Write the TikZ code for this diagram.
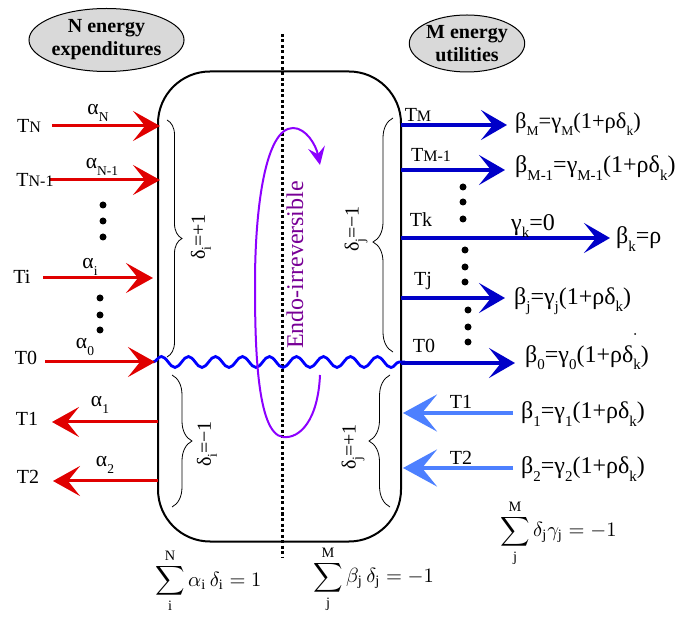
\documentclass[tikz,border=0pt]{standalone}
\usepackage{fontspec}
\setmainfont{Liberation Serif}
\usetikzlibrary{arrows.meta,decorations.pathmorphing,decorations.pathreplacing,shapes.geometric}
\definecolor{arrred}{RGB}{224,0,0}
\definecolor{arrblue}{RGB}{0,0,200}
\definecolor{ltblue}{RGB}{77,128,255}
\definecolor{wavecol}{RGB}{0,0,255}
\definecolor{loopcol}{RGB}{140,0,255}
\definecolor{endocol}{RGB}{120,0,150}
\definecolor{ellfill}{RGB}{217,217,217}
\newcommand\sbs[1]{\raisebox{-0.3em}{\fontsize{13.5}{14}\selectfont #1}}
\newcommand\sbsB[1]{\raisebox{-0.3em}{\fontsize{15}{15}\selectfont #1}}
\newcommand\tsm[1]{{\fontsize{16}{16}\selectfont #1}}
\tikzset{
  lbl/.style={inner sep=0pt, font=\fontsize{20}{22}\selectfont},
  alphalbl/.style={inner sep=0pt, font=\fontsize{21.5}{24}\selectfont},
  betalbl/.style={inner sep=0pt, anchor=west, font=\fontsize{24}{26}\selectfont},
  sumlbl/.style={inner sep=0pt, anchor=west},
  redarr/.style={draw=arrred, line width=3pt, -{Stealth[length=27pt,width=30pt,inset=12pt]}},
  bluearr/.style={draw=arrblue, line width=3.2pt, -{Stealth[length=26pt,width=30pt,inset=12pt]}},
  ltarr/.style={draw=ltblue, line width=4pt, -{Stealth[length=34pt,width=37pt,inset=15pt]}},
  bracestyle/.style={draw, line width=0.8pt, decorate},
  ell/.style={ellipse, draw, line width=1pt, fill=ellfill, inner sep=0pt, align=center, font=\bfseries\fontsize{20}{23}\selectfont},
  dotnode/.style={circle, fill=black, inner sep=0pt, minimum size=7pt},
  speck/.style={circle, fill=black, inner sep=0pt, minimum size=2pt},
  rotlbl/.style={inner sep=0pt, rotate=90, font=\fontsize{20}{22}\selectfont},
}
\newcommand\gap{\rule[-0.6pt]{0pt}{0pt}}
\begin{document}
\begin{tikzpicture}[x=1pt,y=-1pt]
\useasboundingbox (0,0) rectangle (675,617);
% ellipses
\node[ell, minimum width=153pt, minimum height=63pt] (ellN) at (106.5,40) {N energy\\expenditures};
\node[ell, minimum width=112pt, minimum height=57pt] (ellM) at (467,43.5) {M energy\\utilities};
% dotted line
\coordinate (dtop) at (282,34);
\coordinate (dbot) at (282,557);
\draw[line width=3pt, dash pattern=on 3pt off 2.5pt] (dtop) -- (dbot);
% box
\node[draw, line width=2pt, rounded corners=52pt, minimum width=243pt, minimum height=470pt, inner sep=0pt] (box) at (279.5,306.5) {};
% wave
\coordinate (wl) at (153,362);
\coordinate (wr) at (405,362);
\draw[wavecol, line width=2.8pt, decorate, decoration={snake, segment length=27pt, amplitude=5.5pt}] (wl) -- (wr);
% purple loop
\coordinate (ls) at (320,375);
\coordinate (lb) at (283,437);
\coordinate (ll) at (255,283);
\coordinate (lt) at (293,128);
\coordinate (le) at (320,165);
\draw[loopcol, line width=2pt, -{Stealth[length=18pt,width=17pt,inset=7pt]}]
  (ls) .. controls (318,420) and (300,439) .. (lb)
  .. controls (256,434) and (255,340) .. (ll)
  .. controls (255,210) and (265,128) .. (lt)
  .. controls (306,128) and (316,145) .. (le);
\node[rotlbl, text=endocol, font=\fontsize{24}{26}\selectfont] (endo) at (295,265) {Endo-irreversible};
% braces
\coordinate (b1t) at (167,120); \coordinate (b1b) at (167,357);
\draw[bracestyle, decoration={brace, amplitude=15pt}] (b1t) -- (b1b);
\coordinate (b2t) at (172,375); \coordinate (b2b) at (172,507);
\draw[bracestyle, decoration={brace, amplitude=20pt}] (b2t) -- (b2b);
\coordinate (b3t) at (393,118); \coordinate (b3b) at (393,352);
\draw[bracestyle, decoration={brace, amplitude=20pt, aspect=0.47}] (b3b) -- (b3t);
\coordinate (b4t) at (390,375); \coordinate (b4b) at (390,507);
\draw[bracestyle, decoration={brace, amplitude=21pt}] (b4b) -- (b4t);
\node[rotlbl] (d1) at (201,237) {δ\sbs{i}=+1};
\node[rotlbl] (d2) at (207,444) {δ\sbs{i}=−1};
\node[rotlbl] (d3) at (356,229) {δ\sbs{j}=−1};
\node[rotlbl] (d4) at (353,447) {δ\sbs{j}=+1};
% left red arrows
\coordinate (aNs) at (52,126);  \coordinate (aNe) at (160,126);
\coordinate (aN1s) at (50,180); \coordinate (aN1e) at (160,180);
\coordinate (ais) at (43,278);  \coordinate (aie) at (153,278);
\coordinate (a0s) at (45,362);  \coordinate (a0e) at (155,362);
\coordinate (a1s) at (158,422); \coordinate (a1e) at (52,422);
\coordinate (a2s) at (158,481); \coordinate (a2e) at (53,481);
\draw[redarr] (aNs) -- (aNe);
\draw[redarr] (aN1s) -- (aN1e);
\draw[redarr] (ais) -- (aie);
\draw[redarr] (a0s) -- (a0e);
\draw[redarr] (a1s) -- (a1e);
\draw[redarr] (a2s) -- (a2e);
\node[lbl] (TN) at (29,126) {T\tsm{N}};
\node[lbl] (TN1) at (35,180) {T\tsm{N-1}};
\node[lbl] (Ti) at (22,277) {Ti};
\node[lbl] (T0l) at (26,358) {T0};
\node[lbl] (T1l) at (27,419) {T1};
\node[lbl] (T2l) at (28,477) {T2};
\node[alphalbl] (alN) at (98,113) {α\sbs{N}};
\node[alphalbl] (alN1) at (102,167) {α\sbs{N-1}};
\node[alphalbl] (ali) at (90,267) {α\sbs{i}};
\node[alphalbl] (al0) at (85,347) {α\sbs{0}};
\node[alphalbl] (al1) at (100,405) {α\sbs{1}};
\node[alphalbl] (al2) at (105,465) {α\sbs{2}};
% left dots
\node[dotnode] (ld1) at (103,205) {};
\node[dotnode] (ld2) at (103,221) {};
\node[dotnode] (ld3) at (103,237) {};
\node[dotnode] (ld4) at (100,298) {};
\node[dotnode] (ld5) at (100,315) {};
\node[dotnode] (ld6) at (100,330) {};
% right blue arrows
\coordinate (bMs) at (401,125);  \coordinate (bMe) at (507,125);
\coordinate (bM1s) at (401,170); \coordinate (bM1e) at (505,170);
\coordinate (bks) at (401,238);  \coordinate (bke) at (610,238);
\coordinate (bjs) at (401,298);  \coordinate (bje) at (505,298);
\coordinate (b0s) at (401,363);  \coordinate (b0e) at (515,363);
\coordinate (c1s) at (513,413);  \coordinate (c1e) at (403,413);
\coordinate (c2s) at (513,468);  \coordinate (c2e) at (403,468);
\draw[bluearr] (bMs) -- (bMe);
\draw[bluearr] (bM1s) -- (bM1e);
\draw[bluearr] (bks) -- (bke);
\draw[bluearr] (bjs) -- (bje);
\draw[bluearr] (b0s) -- (b0e);
\draw[ltarr] (c1s) -- (c1e);
\draw[ltarr] (c2s) -- (c2e);
\node[lbl] (TM) at (418,115) {T\tsm{M}};
\node[lbl] (TM1) at (431,155) {T\tsm{M-1}};
\node[lbl] (Tk) at (421,220) {Tk};
\node[lbl] (Tj) at (423,281) {Tj};
\node[lbl] (T0r) at (424,346) {T0};
\node[lbl] (T1r) at (461,402) {T1};
\node[lbl] (T2r) at (461,458) {T2};
\node[betalbl, font=\fontsize{22.5}{24}\selectfont] (beM) at (515,124) {β\sbs{M}=γ\sbs{M}(1+ρδ\sbs{k})};
\node[betalbl] (beM1) at (515,168) {β\sbsB{M-1}=γ\sbsB{M-1}(1+ρδ\sbsB{k})};
\node[lbl, font=\fontsize{24}{26}\selectfont] (gak) at (533,226) {γ\sbsB{k}=0};
\node[betalbl] (bek) at (616,239) {β\sbsB{k}=ρ};
\node[betalbl] (bej) at (514,301) {β\sbsB{j}=γ\sbsB{j}(1+ρδ\sbsB{k})};
\node[betalbl] (be0) at (525,358) {β\sbsB{0}=γ\sbsB{0}(1+ρδ\sbsB{k})};
\node[speck] (spk) at (635,334) {};
\node[betalbl] (be1) at (521,414) {β\sbsB{1}=γ\sbsB{1}(1+ρδ\sbsB{k})};
\node[betalbl] (be2) at (521,469) {β\sbsB{2}=γ\sbsB{2}(1+ρδ\sbsB{k})};
% right dots
\node[dotnode] (rd1) at (463,187) {};
\node[dotnode] (rd2) at (463,202) {};
\node[dotnode] (rd3) at (463,219) {};
\node[dotnode] (rd4) at (465,250) {};
\node[dotnode] (rd5) at (465,267) {};
\node[dotnode] (rd6) at (465,282) {};
\node[dotnode] (rd7) at (468,310) {};
\node[dotnode] (rd8) at (468,327) {};
\node[dotnode] (rd9) at (468,342) {};
% sums
\node[sumlbl] (s1) at (155,581) {\scalebox{2.05}{$\displaystyle\sum_{\mathrm{i}}^{\mathrm{N}\gap}\alpha_{\mathrm{i}}\,\delta_{\mathrm{i}}=1$}};
\node[sumlbl] (s2) at (313,579) {\scalebox{2.05}{$\displaystyle\sum_{\mathrm{j}}^{\mathrm{M}\gap}\beta_{\mathrm{j}}\,\delta_{\mathrm{j}}=-1$}};
\node[sumlbl] (s3) at (500,533) {\scalebox{2.05}{$\displaystyle\sum_{\mathrm{j}}^{\mathrm{M}\gap}\delta_{\mathrm{j}}\gamma_{\mathrm{j}}=-1$}};
\end{tikzpicture}
\end{document}
